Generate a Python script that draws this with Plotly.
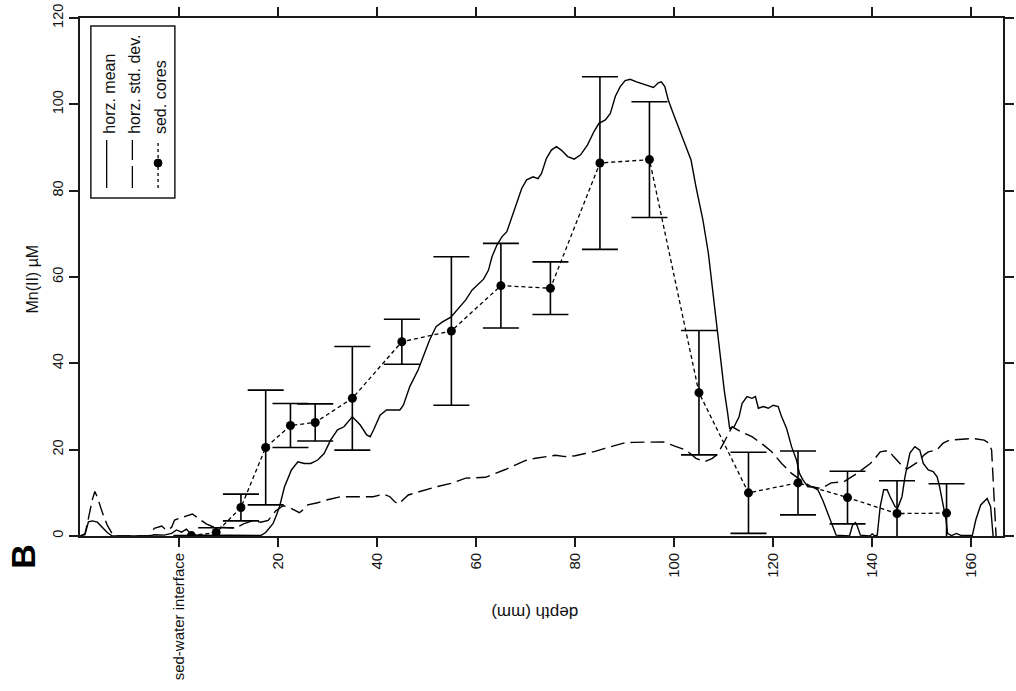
import plotly.graph_objects as go

# Horizontal mean Mn(II) profile (depth in mm, concentration in µM)
mean_depth = [-20, -19, -18.3, -17.5, -16.5, -15.5, -14.5, -13.5, -6, -5,
              -3, -1.5, -0.5, 0.5, 1.5, 2.5, 4, 10, 16.5, 17.5,
              18.3, 19.0, 19.7, 20.3, 21.3, 22.7, 24.0, 25.3, 26.6, 28.0,
              29.3, 30.6, 32.0, 33.3, 35.0, 36.6, 37.9, 38.6, 39.3, 40.6,
              41.9, 44.6, 45.3, 46.6, 48.3, 49.3, 50.6, 51.9, 53.2, 54.9,
              56.6, 57.9, 59.2, 60.5, 61.5, 62.5, 63.2, 64.2, 65.2, 66.2,
              67.2, 68.2, 69.2, 70.2, 71.5, 72.5, 73.2, 74.2, 75.2, 76.2,
              77.2, 78.5, 79.8, 81.1, 82.5, 83.8, 84.8, 86.1, 87.1, 88.1,
              89.1, 90.1, 91.1, 92.4, 93.8, 94.8, 95.8, 96.8, 97.4, 98.1,
              98.8, 99.8, 101.1, 102.4, 103.4, 104.4, 105.8, 106.9, 107.9, 108.7,
              109.4, 110.1, 110.8, 111.2, 112.1, 113.1, 113.7, 114.7, 115.7, 116.4,
              117.0, 118.0, 119.0, 120.0, 121.0, 121.7, 122.7, 123.7, 124.7, 125.3,
              126.0, 127.0, 128.0, 129.0, 130.0, 131.0, 132.0, 132.7, 135.4, 136.0,
              136.6, 137.0, 137.6, 139.5, 140.0, 140.5, 141.0, 141.6, 142.3, 143.0,
              143.6, 144.6, 145.1, 146.0, 146.6, 147.6, 148.6, 149.6, 150.3, 151.3,
              152.3, 153.1, 153.6, 154.3, 154.9, 155.2, 156.0, 157.0, 158.0, 160.2,
              160.9, 161.9, 163.2, 163.9, 164.2, 164.4]
mean_mn = [0, 0.3, 3.3, 3.5, 3.2, 2.0, 0.8, 0, 0, 0.3,
           0.2, 0.6, 1.4, 0.9, 1.6, 0.3, 0.1, 0.2, 0.1, 0.8,
           1.8, 2.9, 4.9, 6.8, 11.4, 15.3, 17.2, 16.8, 16.8, 17.6,
           19.1, 22.2, 24.6, 25.3, 27.6, 25.7, 23.4, 23.0, 24.6, 28.0,
           29.2, 29.2, 30.3, 34.6, 38.5, 41.5, 45.4, 48.5, 49.6, 50.7,
           53.1, 54.7, 57.0, 58.5, 59.5, 61.6, 64.7, 67.4, 69.3, 70.5,
           74.0, 77.1, 80.5, 82.5, 83.2, 82.8, 84.0, 87.5, 89.4, 90.2,
           89.4, 87.9, 87.3, 88.3, 90.6, 93.7, 95.6, 96.4, 97.9, 101.8,
           104.1, 105.5, 105.8, 105.2, 104.7, 104.2, 103.9, 105.0, 105.2, 104.1,
           101.0, 97.9, 94.0, 90.2, 87.1, 80.9, 73.2, 65.5, 56.2, 47.7,
           40.8, 33.8, 28.4, 24.9, 25.3, 27.6, 30.7, 32.3, 31.9, 32.3,
           29.6, 30.0, 29.6, 30.3, 30.0, 27.6, 24.9, 20.7, 17.6, 14.5,
           13.0, 11.4, 11.4, 10.7, 8.3, 5.2, 2.2, 0.2, 0, 2.5,
           3.1, 2.2, 0.2, 0, 0.5, 0, 0.2, 6.8, 10.7, 10.7,
           9.1, 6.8, 6.4, 9.1, 13.7, 19.2, 20.7, 19.9, 16.8, 15.3,
           14.9, 13.7, 11.4, 6.8, 3.7, 0.6, 0.1, 0.6, 0.1, 0.1,
           3.7, 7.2, 8.7, 6.8, 2.2, 0]

# Horizontal standard deviation profile
std_depth = [-20, -19, -18.5, -17.5, -17, -16.5, -15.5, -14.5, -13.5, -13,
             -6, -5, -3.5, -2.5, -1.5, -0.9, 1.4, 2.7, 4.4, 5.5,
             6.7, 9.4, 11.4, 13, 15, 16.5, 18, 19.5, 21, 22,
             23.2, 24.3, 25.2, 26, 28, 30, 32.6, 36, 39.2, 41.3,
             42.6, 43.5, 44.3, 46.3, 48.6, 51.9, 54.9, 57.9, 61.9, 64,
             65.9, 68, 70, 72, 74, 76, 78, 80, 82, 84,
             86, 88, 90, 91.8, 95.4, 97.8, 100.4, 102.4, 104.4, 106.1,
             107.7, 108.7, 110.2, 111.7, 113.4, 115.7, 118.0, 119.7, 121.7, 123.7,
             125.0, 127.7, 129.7, 131.7, 134.3, 136.9, 139.6, 140.3, 141.6, 143.3,
             144.3, 145.6, 147, 149, 150.5, 151.3, 153.0, 154.3, 155.6, 157.9,
             160.2, 162.6, 163.6, 164.1, 164.4, 164.8, 165.0]
std_mn = [0, 0.5, 3, 8.5, 10.3, 9, 5.5, 2.5, 0.5, 0,
          0, 1.8, 2.3, 1.3, 2.0, 3.7, 4.6, 5.1, 3.7, 2.8,
          2.2, 2.0, 1.8, 2.8, 3.6, 3.2, 3.6, 5.8, 7.0, 6.8,
          6.0, 5.4, 6.2, 7.2, 7.7, 8.4, 9.1, 9.1, 9.1, 9.7,
          9.1, 8.0, 7.4, 9.5, 10.3, 11.4, 12.2, 13.4, 13.6, 14.5,
          15.4, 16.5, 17.5, 18.0, 18.3, 18.7, 18.4, 18.6, 19.1, 19.6,
          20.3, 21.0, 21.6, 21.7, 21.7, 21.8, 20.7, 19.9, 18.0, 17.2,
          18.0, 18.9, 22.0, 25.3, 24.2, 23.0, 21.1, 19.5, 16.8, 14.5,
          13.4, 11.4, 11.0, 12.3, 12.6, 14.5, 16.8, 17.6, 19.5, 19.8,
          18.4, 16.8, 15.5, 17.0, 18.8, 19.5, 19.9, 21.5, 22.2, 22.4,
          22.6, 22.2, 21.5, 19.9, 13.0, 5.3, 0]

# Sediment core samples: depth, mean Mn(II) and standard deviation
core_depth = [2.5, 7.5, 12.5, 17.5, 22.5, 27.5, 35, 45, 55, 65,
              75, 85, 95, 105, 115, 125, 135, 145, 155]
core_mn = [0.1, 0.8, 6.6, 20.5, 25.6, 26.3, 31.9, 45.0, 47.5, 58.0,
           57.4, 86.4, 87.2, 33.2, 10.0, 12.3, 8.9, 5.2, 5.3]
core_sd = [0, 1.1, 3.1, 13.3, 5.1, 4.3, 12.0, 5.2, 17.2, 9.8,
           6.1, 20.0, 13.4, 14.4, 9.4, 7.4, 6.1, 7.6, 6.8]

x_tickvals = [0, 20, 40, 60, 80, 100, 120, 140, 160]
x_ticktext = ["sed-water interface", "20", "40", "60", "80", "100", "120", "140", "160"]
y_tickvals = [0, 20, 40, 60, 80, 100, 120]

W, H = 1016, 691
L, R, T, B = 80, 2, 18, 155
FONT = "Liberation Sans, Arial, sans-serif"
INK = "#111111"


def px(xp):
    return (xp - L) / (W - L - R)


def py(yp):
    return (H - B - yp) / (H - T - B)


fig = go.Figure()

fig.add_trace(go.Scatter(
    x=std_depth, y=std_mn, mode="lines", name="horz. std. dev.",
    line=dict(color="black", width=1.4, dash="14px,6px"),
))
fig.add_trace(go.Scatter(
    x=mean_depth, y=mean_mn, mode="lines", name="horz. mean",
    line=dict(color="black", width=1.4),
))
fig.add_trace(go.Scatter(
    x=core_depth, y=core_mn, mode="lines+markers", name="sed. cores",
    line=dict(color="black", width=1.3, dash="4px,3px"),
    marker=dict(color="black", size=9, symbol="circle"),
    error_y=dict(type="data", array=core_sd, symmetric=True,
                 color="black", thickness=1.6, width=18),
))

axis_common = dict(
    ticks="outside", ticklen=9, tickwidth=1.5, tickcolor="#1a1a1a",
    showline=True, linecolor="#1a1a1a", linewidth=1.6, mirror="ticks",
    showgrid=False, zeroline=False,
)

fig.update_xaxes(
    range=[-20, 166.4], tickmode="array", tickvals=x_tickvals, ticktext=x_ticktext,
    tickangle=-90, tickfont=dict(family=FONT, size=15, color=INK), **axis_common,
)
fig.update_yaxes(
    range=[0, 120], tickmode="array", tickvals=y_tickvals,
    tickangle=-90, tickfont=dict(family=FONT, size=14.5, color=INK), **axis_common,
)

# Legend drawn by hand so that it can be turned on its side
shapes = [
    dict(type="rect", xref="paper", yref="paper",
         x0=px(91), x1=px(176), y0=py(198), y1=py(26),
         line=dict(color="#1a1a1a", width=1.5), fillcolor="white", layer="above"),
    dict(type="line", xref="paper", yref="paper",
         x0=px(107), x1=px(107), y0=py(188), y1=py(140),
         line=dict(color="black", width=1.3)),
    dict(type="line", xref="paper", yref="paper",
         x0=px(133), x1=px(133), y0=py(188), y1=py(166),
         line=dict(color="black", width=1.3)),
    dict(type="line", xref="paper", yref="paper",
         x0=px(133), x1=px(133), y0=py(160), y1=py(140),
         line=dict(color="black", width=1.3)),
    dict(type="line", xref="paper", yref="paper",
         x0=px(159), x1=px(159), y0=py(188), y1=py(140),
         line=dict(color="black", width=1.3, dash="3px,3px")),
    dict(type="circle", xref="paper", yref="paper",
         x0=px(155), x1=px(163), y0=py(167), y1=py(159),
         line=dict(color="black", width=1), fillcolor="black"),
]

annotations = [
    dict(text="horz. mean", x=px(109), y=py(136)),
    dict(text="horz. std. dev.", x=px(135), y=py(136)),
    dict(text="sed. cores", x=px(161), y=py(136)),
]
for a in annotations:
    a.update(xref="paper", yref="paper", xanchor="center", yanchor="bottom",
             textangle=-90, showarrow=False,
             font=dict(family=FONT, size=16, color=INK))

annotations += [
    dict(text="Mn(II) µM", x=px(31), y=py(279), xref="paper", yref="paper",
         xanchor="center", yanchor="middle", textangle=-90, showarrow=False,
         font=dict(family=FONT, size=16, color=INK)),
    dict(text="depth (mm)", x=px(540), y=py(613), xref="paper", yref="paper",
         xanchor="center", yanchor="middle", textangle=180, showarrow=False,
         font=dict(family=FONT, size=17, color=INK)),
    dict(text="<b>B</b>", x=px(22), y=py(556), xref="paper", yref="paper",
         xanchor="center", yanchor="middle", textangle=-90, showarrow=False,
         font=dict(family=FONT, size=34, color="black")),
]

fig.update_layout(
    width=W, height=H,
    margin=dict(l=L, r=R, t=T, b=B, pad=0),
    paper_bgcolor="white", plot_bgcolor="white",
    showlegend=False,
    font=dict(family=FONT, color=INK),
    shapes=shapes,
    annotations=annotations,
)

fig.write_html("out.html")
